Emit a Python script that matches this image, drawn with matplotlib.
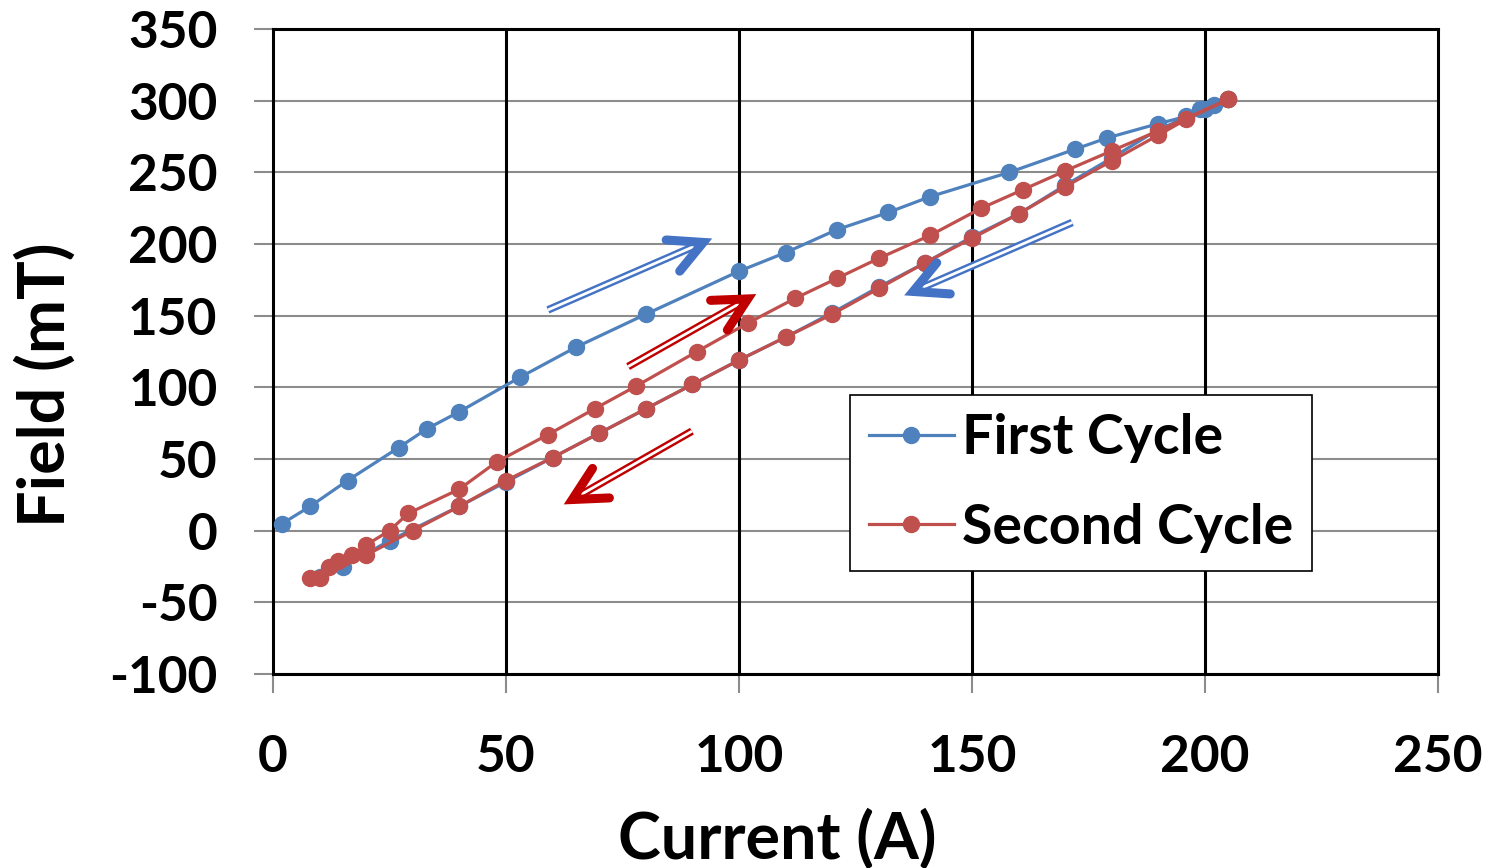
import matplotlib
matplotlib.use('Agg')
import matplotlib.pyplot as plt
import numpy as np

plt.rcParams['font.family'] = ['Lato', 'DejaVu Sans']
plt.rcParams['font.weight'] = 'bold'
plt.rcParams['axes.unicode_minus'] = False

# first cycle (up then down)
first_up_i = [2, 8, 16, 27, 33, 40, 53, 65, 80, 100, 110, 121, 132, 141, 158, 172, 179, 190, 196, 199, 202, 205]
first_up_b = [5, 17, 35, 58, 71, 83, 107, 128, 151, 181, 194, 210, 222, 233, 250, 266, 274, 284, 289, 294, 297, 301]
first_dn_i = [205, 200, 196, 190, 180, 170, 160, 150, 140, 130, 120, 110, 100, 90, 80, 70, 60, 50, 40, 25, 15, 10]
first_dn_b = [301, 294, 288, 280, 260, 241, 221, 205, 187, 170, 152, 135, 119, 102, 85, 68, 51, 34, 17, -7, -25, -32]

# second cycle (up then down)
second_up_i = [8, 12, 14, 17, 20, 25, 29, 40, 48, 59, 69, 78, 91, 102, 112, 121, 130, 141, 152, 161, 170, 180, 190, 205]
second_up_b = [-33, -25, -21, -17, -10, 0, 12, 29, 48, 67, 85, 101, 125, 145, 162, 176, 190, 206, 225, 238, 251, 265, 279, 301]
second_dn_i = [205, 196, 190, 180, 170, 160, 150, 140, 130, 120, 110, 100, 90, 80, 70, 60, 50, 40, 30, 20, 10]
second_dn_b = [301, 287, 276, 258, 240, 221, 204, 187, 169, 151, 135, 119, 102, 85, 68, 51, 35, 17, 0, -17, -33]

first_i = first_up_i + first_dn_i
first_b = first_up_b + first_dn_b
second_i = second_up_i + second_dn_i
second_b = second_up_b + second_dn_b

# direction arrows: (tail, tip, colour)
arrows = [((59.0, 154.0), (93.3, 202.5), '#4472C4'),
          ((76.2, 114.5), (102.8, 163.4), '#C00000'),
          ((89.9, 69.4), (63.3, 20.0), '#C00000'),
          ((171.5, 215.0), (136.4, 165.5), '#4472C4')]

fig = plt.figure(figsize=(14.91, 8.68), dpi=100)
ax = fig.add_axes([273/1491, 1-674/868, (1438-273)/1491, (674-29)/868])
ax.set_xlim(0, 250)
ax.set_ylim(-100, 350)

ax.plot(first_i, first_b, '-o', color='#4F81BD', lw=2.3, ms=11.5, label='First Cycle', zorder=4)
ax.plot(second_i, second_b, '-o', color='#C0504D', lw=2.3, ms=11.5, label='Second Cycle', zorder=5)

# double-line arrows with an open head, head built in pixel space
for tail, tip, c in arrows:
    p0 = ax.transData.transform(tail)
    p1 = ax.transData.transform(tip)
    d = (p1 - p0) / np.hypot(*(p1 - p0))
    n = np.array([-d[1], d[0]])
    p1 = p1 - 5 * d
    shaft = ax.transData.inverted().transform([p0, p1 - 6 * d])
    white = ax.transData.inverted().transform([p0, p1 - 9 * d])
    head = ax.transData.inverted().transform([p1 - 33 * d + 17 * n, p1, p1 - 33 * d - 17 * n])
    ax.plot(shaft[:, 0], shaft[:, 1], color=c, lw=5.5, solid_capstyle='butt', zorder=6)
    ax.plot(white[:, 0], white[:, 1], color='white', lw=2, solid_capstyle='butt', zorder=7)
    ax.plot(head[:, 0], head[:, 1], color=c, lw=6.5, solid_joinstyle='miter',
            solid_capstyle='round', zorder=8)

ax.set_xticks(range(0, 251, 50))
ax.set_yticks(range(-100, 351, 50))
ax.grid(axis='y', color='#8C8C8C', lw=1.5, zorder=1)
for v in [50, 100, 150, 200]:
    ax.axvline(v, color='black', lw=2.2, zorder=2)
for s in ax.spines.values():
    s.set_linewidth(2.2)
    s.set_color('black')
    s.set_zorder(3)
ax.set_axisbelow(True)
ax.tick_params(direction='out', length=14, width=1.5, color='#8C8C8C', labelsize=37)
ax.tick_params(axis='y', pad=26)
ax.tick_params(axis='x', pad=29)

ax.set_xlabel('Current (A)', fontsize=46.5, fontweight='bold', labelpad=20)
ax.xaxis.label.set_position((0.433, 0))
ax.set_ylabel('Field (mT)', fontsize=46.5, fontweight='bold', labelpad=24)
ax.yaxis.label.set_position((0, 0.448))

leg = ax.legend(loc='center', bbox_to_anchor=(0.6935, 0.296), fontsize=40, handlelength=1.53,
                handletextpad=0.15, labelspacing=0.71, borderpad=0.33, fancybox=False,
                edgecolor='black', framealpha=1)
leg.get_frame().set_linewidth(1.2)

fig.savefig('out.png', dpi=100)
